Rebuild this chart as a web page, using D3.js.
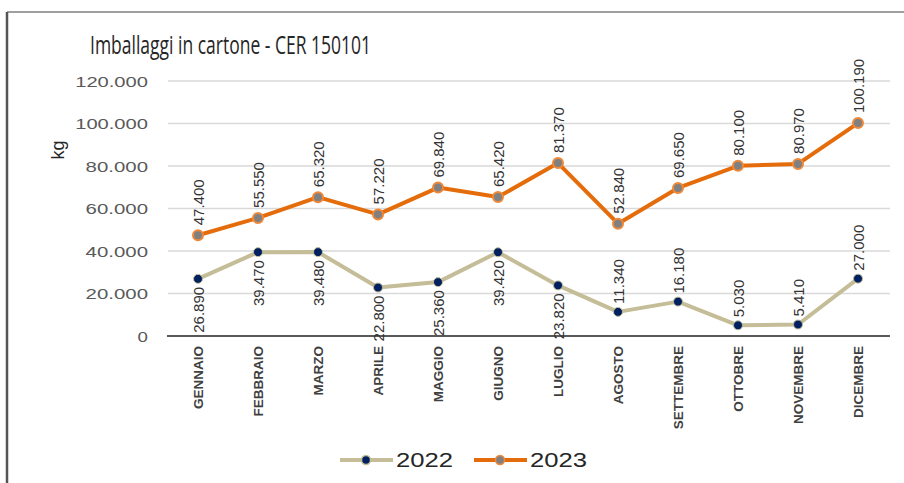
<!DOCTYPE html>
<meta charset="utf-8">
<title>Imballaggi in cartone - CER 150101</title>
<style>
  body { margin: 0; background: #fff; }
  svg { display: block; font-family: "Liberation Sans", Arial, sans-serif; }
</style>
<body>
<svg width="904" height="483"></svg>
<script src="https://d3js.org/d3.v7.min.js"></script>
<script>
const months = ["GENNAIO","FEBBRAIO","MARZO","APRILE","MAGGIO","GIUGNO","LUGLIO","AGOSTO","SETTEMBRE","OTTOBRE","NOVEMBRE","DICEMBRE"];
const values2022 = [26890, 39470, 39480, 22800, 25360, 39420, 23820, 11340, 16180, 5030, 5410, 27000];
const values2023 = [47400, 55550, 65320, 57220, 69840, 65420, 81370, 52840, 69650, 80100, 80970, 100190];
// which 2022 labels sit below the point
const below2022 = [true, true, true, true, true, true, true, false, false, false, false, false];
const yTicks = [0, 20000, 40000, 60000, 80000, 100000, 120000];

const svg = d3.select("svg");
const fmt = v => v === 0 ? "0" : d3.format(",")(v).replace(/,/g, ".");

const x = d3.scaleBand().domain(months).range([168, 888]);
const y = d3.scaleLinear().domain([0, 120000]).range([336, 81]);
const cx = m => x(m) + x.bandwidth() / 2;

// frame
svg.append("line").attr("x1", 7).attr("x2", 904).attr("y1", 12).attr("y2", 12)
  .attr("stroke", "#808080").attr("stroke-width", 1.5);
svg.append("line").attr("x1", 7).attr("x2", 7).attr("y1", 12).attr("y2", 483)
  .attr("stroke", "#555").attr("stroke-width", 2.5);

// title
svg.append("text").attr("x", 90).attr("y", 54)
  .attr("font-family", "'Liberation Sans Narrow', 'Open Sans', sans-serif")
  .attr("font-size", 26).attr("fill", "#262626")
  .attr("textLength", 281).attr("lengthAdjust", "spacingAndGlyphs")
  .text("Imballaggi in cartone - CER 150101");

// gridlines
svg.append("g").selectAll("line").data(yTicks.filter(d => d > 0)).join("line")
  .attr("x1", 168).attr("x2", 890)
  .attr("y1", d => y(d)).attr("y2", d => y(d))
  .attr("stroke", "#d9d9d9").attr("stroke-width", 1.5);

// y axis tick labels
svg.append("g").selectAll("text").data(yTicks).join("text")
  .attr("x", 148).attr("y", d => y(d))
  .attr("text-anchor", "end").attr("dominant-baseline", "central")
  .attr("font-size", 15).attr("fill", "#595959")
  .attr("textLength", d => fmt(d).length * 10.4).attr("lengthAdjust", "spacingAndGlyphs")
  .text(fmt);

// axis baseline
svg.append("line").attr("x1", 167).attr("x2", 890).attr("y1", y(0)).attr("y2", y(0))
  .attr("stroke", "#595959").attr("stroke-width", 2);

// y title
svg.append("text").attr("transform", "translate(58,150) rotate(-90)")
  .attr("text-anchor", "middle").attr("dominant-baseline", "central")
  .attr("font-size", 18).attr("fill", "#262626").text("kg");

// category labels
svg.append("g").selectAll("text").data(months).join("text")
  .attr("transform", d => `translate(${cx(d)},346) rotate(-90)`)
  .attr("text-anchor", "end").attr("dominant-baseline", "central")
  .attr("font-size", 13.5).attr("font-weight", "bold").attr("fill", "#404040")
  .text(d => d);

const line = d3.line().x((d, i) => cx(months[i])).y(d => y(d));

// 2022
svg.append("path").datum(values2022).attr("d", line)
  .attr("fill", "none").attr("stroke", "#c4bd97").attr("stroke-width", 4)
  .attr("stroke-linejoin", "round");
svg.append("g").selectAll("circle").data(values2022).join("circle")
  .attr("cx", (d, i) => cx(months[i])).attr("cy", d => y(d)).attr("r", 4.5)
  .attr("fill", "#002060").attr("stroke", "#c4bd97").attr("stroke-width", 1);

// 2023
svg.append("path").datum(values2023).attr("d", line)
  .attr("fill", "none").attr("stroke", "#e46c0a").attr("stroke-width", 4)
  .attr("stroke-linejoin", "round");
svg.append("g").selectAll("circle").data(values2023).join("circle")
  .attr("cx", (d, i) => cx(months[i])).attr("cy", d => y(d)).attr("r", 5)
  .attr("fill", "#808080").attr("stroke", "#f0883a").attr("stroke-width", 2);

// data labels
svg.append("g").selectAll("text").data(values2022).join("text")
  .attr("transform", (d, i) => `translate(${cx(months[i])},${y(d) + (below2022[i] ? 8 : -8)}) rotate(-90)`)
  .attr("text-anchor", (d, i) => below2022[i] ? "end" : "start")
  .attr("dominant-baseline", "central")
  .attr("font-size", 15).attr("fill", "#333")
  .text(fmt);
svg.append("g").selectAll("text").data(values2023).join("text")
  .attr("transform", (d, i) => `translate(${cx(months[i])},${y(d) - 10}) rotate(-90)`)
  .attr("text-anchor", "start").attr("dominant-baseline", "central")
  .attr("font-size", 15).attr("fill", "#333")
  .text(fmt);

// legend
const legend = [
  { name: "2022", stroke: "#c4bd97", fill: "#002060", ring: "#c4bd97", x0: 340 },
  { name: "2023", stroke: "#e46c0a", fill: "#808080", ring: "#f0883a", x0: 474 }
];
const lg = svg.append("g").selectAll("g").data(legend).join("g");
lg.append("line").attr("x1", d => d.x0).attr("x2", d => d.x0 + 53)
  .attr("y1", 460).attr("y2", 460).attr("stroke", d => d.stroke).attr("stroke-width", 4);
lg.append("circle").attr("cx", d => d.x0 + 26).attr("cy", 460).attr("r", 4.5)
  .attr("fill", d => d.fill).attr("stroke", d => d.ring).attr("stroke-width", 1.5);
lg.append("text").attr("x", d => d.x0 + 56).attr("y", 460)
  .attr("dominant-baseline", "central").attr("font-size", 20).attr("fill", "#262626")
  .attr("textLength", 57).attr("lengthAdjust", "spacingAndGlyphs")
  .text(d => d.name);
</script>
</body>
